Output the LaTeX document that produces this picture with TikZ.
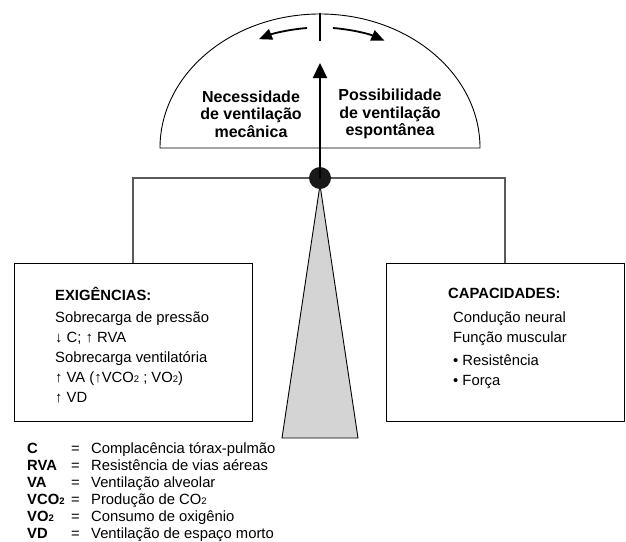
\documentclass[tikz,border=0pt]{standalone}
\usepackage{fontspec}
\setmainfont{Liberation Sans}
\usetikzlibrary{arrows.meta}
\definecolor{beamgray}{RGB}{90,90,90}
\definecolor{wedgegray}{RGB}{212,212,212}
\newcommand{\lowtwo}{{\fontsize{9.5}{9.5}\selectfont 2}}
\newcommand{\uparr}{\textbf{↑}}
\newcommand{\downarr}{\textbf{↓}}

\tikzset{
  boxframe/.style={draw, line width=1pt, minimum width=238pt, minimum height=158pt,
    anchor=north west, inner sep=0pt},
  boxtext/.style={anchor=base west, align=left, inner sep=0pt,
    font=\fontsize{14.8}{19.8}\selectfont},
  dialtext/.style={align=center, inner sep=0pt, font=\bfseries\fontsize{16}{17.5}\selectfont},
  swing/.style={line width=1.8pt, -{Triangle[length=13pt,width=11pt]}},
}

\begin{document}
\begin{tikzpicture}[x=1pt,y=-1pt]
  \useasboundingbox (0,0) rectangle (626,541);

  % Dial (half ellipse) with its mark and swing arrows.
  \draw[line width=0.9pt] (160,148) arc[start angle=180,end angle=360,x radius=160,y radius=134] -- cycle;
  \draw[line width=2.2pt] (320,13) -- (320,41);
  \draw[swing] (307,28) arc[start angle=264.7,end angle=244.5,x radius=142,y radius=120];
  \draw[swing] (333,28) arc[start angle=275.3,end angle=297,x radius=142,y radius=120];

  \node[dialtext] (needtxt) at (251,114) {Necessidade\\de ventilação\\mecânica};
  \node[dialtext] (possibtxt) at (390,114) {Possibilidade\\de ventilação\\espontânea};

  % Boxes hanging from the beam.
  \coordinate (pivot) at (320,178);
  \node[boxframe] (demand) at (13.5,263) {};
  \node[boxframe] (capacity) at (385.5,263) {};
  \draw[line width=1.2pt, color=beamgray] (demand.north) |- (pivot) -| (capacity.north);

  % Wedge, pivot and needle.
  \draw[fill=wedgegray, line width=0.9pt] (320,185) -- (358,438) -- (282,438) -- cycle;
  \node[circle, fill=black!90, minimum size=22pt, inner sep=0pt] (pivotdot) at (pivot) {};
  \coordinate (needle) at (320,63);
  \draw[line width=2.2pt, -{Triangle[length=15pt,width=14pt]}] (pivotdot.center) -- (needle);

  % Box contents (base anchor sits on the last line).
  \node[boxtext] (demandtxt) at (55,402) {\textbf{EXIGÊNCIAS:}\\[3pt]
    Sobrecarga de pressão\\
    \downarr\ C; \uparr\ RVA\\
    Sobrecarga ventilatória\\
    \uparr\ VA (\uparr VCO\lowtwo\ ; VO\lowtwo)\\
    \uparr\ VD};
  \node[boxtext] (capacitytxt) at (453,385) {\hspace*{-5pt}\textbf{CAPACIDADES:}\\[4.2pt]
    Condução neural\\
    Função muscular\\[3pt]
    • Resistência\\
    • Força};

  % Legend.
  \node[anchor=base west, align=left, inner sep=0pt, font=\fontsize{14.8}{17}\selectfont] (legend) at (27,538) {%
    \makebox[44pt][l]{\textbf{C}}\makebox[20pt][l]{=}Complacência tórax-pulmão\\
    \makebox[44pt][l]{\textbf{RVA}}\makebox[20pt][l]{=}Resistência de vias aéreas\\
    \makebox[44pt][l]{\textbf{VA}}\makebox[20pt][l]{=}Ventilação alveolar\\
    \makebox[44pt][l]{\textbf{VCO\lowtwo}}\makebox[20pt][l]{=}Produção de CO\lowtwo\\
    \makebox[44pt][l]{\textbf{VO\lowtwo}}\makebox[20pt][l]{=}Consumo de oxigênio\\
    \makebox[44pt][l]{\textbf{VD}}\makebox[20pt][l]{=}Ventilação de espaço morto};

\end{tikzpicture}
\end{document}
